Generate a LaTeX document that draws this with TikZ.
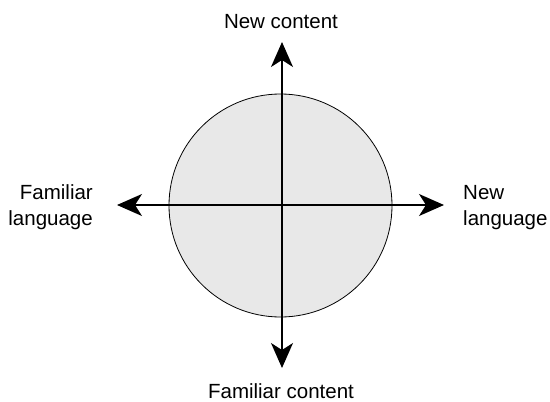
\documentclass[tikz,border=0pt]{standalone}
\usepackage{fontspec}
\setmainfont{Liberation Sans}
\usetikzlibrary{arrows.meta}
\begin{document}
\begin{tikzpicture}[x=1pt,y=-1pt,
  axis/.style={line width=1.4pt,-{Stealth[length=25pt,width=22pt,inset=7pt]}},
  lbl/.style={font=\fontsize{20.5}{26}\selectfont,inner sep=0pt}]
\useasboundingbox (0,0) rectangle (550,402);
\coordinate (c) at (282,205);
\node[circle,draw,line width=0.8pt,fill=gray!18,minimum size=223pt,inner sep=0pt] (circ) at (280.5,205.5) {};
\coordinate (top) at (282,42);
\coordinate (bot) at (282,368);
\coordinate (lft) at (117,205);
\coordinate (rgt) at (444,205);
\draw[axis] (c) -- (top);
\draw[axis] (c) -- (bot);
\draw[axis] (c) -- (lft);
\draw[axis] (c) -- (rgt);
\node[lbl,anchor=base] (nc) at (281,28) {New content};
\node[lbl,anchor=base] (fc) at (281,398) {Familiar content};
\node[lbl,align=right,anchor=base east] (fl) at (93,225) {Familiar\\language};
\node[lbl,align=left,anchor=base west] (nl) at (463,225) {New\\language};
\end{tikzpicture}
\end{document}
